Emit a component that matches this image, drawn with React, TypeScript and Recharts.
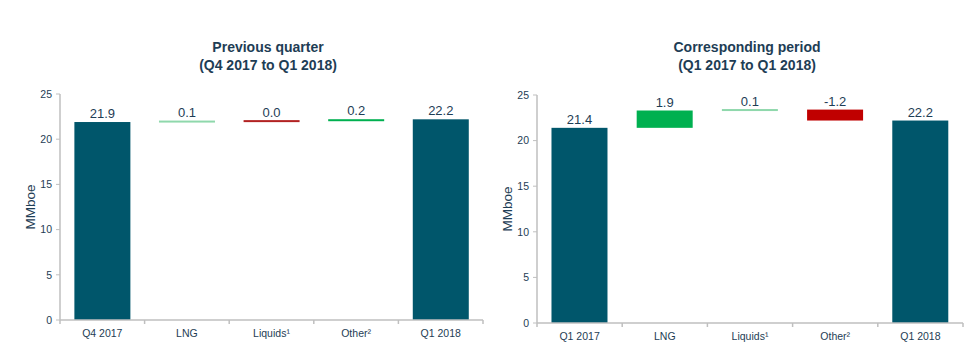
import React from 'react';
import { BarChart, Bar, XAxis, YAxis, Cell, LabelList } from 'recharts';

const categoriesA = ['Q4 2017', 'LNG', 'Liquids¹', 'Other²', 'Q1 2018'];
const deltasA = [21.9, 0.1, 0.0, 0.2, 22.2];
const kindsA = ['total', 'step', 'step', 'step', 'total'];
const colorsA = ['#00566B', '#8FD8AC', '#B22222', '#00B050', '#00566B'];

const categoriesB = ['Q1 2017', 'LNG', 'Liquids¹', 'Other²', 'Q1 2018'];
const deltasB = [21.4, 1.9, 0.1, -1.2, 22.2];
const kindsB = ['total', 'step', 'step', 'step', 'total'];
const colorsB = ['#00566B', '#00B050', '#8FD8AC', '#C00000', '#00566B'];

const yTicks = [0, 5, 10, 15, 20, 25];

const TEXT = '#1E3D55';
const AXIS = '#BFBFBF';
const FONT = '"Liberation Sans", Arial, sans-serif';

function buildData(cats: string[], deltas: number[], kinds: string[]) {
  let run = 0;
  return cats.map((c, i) => {
    const d = deltas[i];
    let range: [number, number];
    if (kinds[i] === 'total') {
      range = [0, d];
      run = d;
    } else {
      const next = Math.round((run + d) * 10) / 10;
      range = [Math.min(run, next), Math.max(run, next)];
      run = next;
    }
    return { name: c, delta: d, range };
  });
}

const BarShape = (props: any) => {
  const { x, y, width, height, fill } = props;
  let top = Math.min(y, y + height);
  let h = Math.abs(height);
  if (h < 2) {
    const mid = top + h / 2;
    top = mid - 1;
    h = 2;
  }
  return <rect x={x} y={top} width={width} height={h} fill={fill} />;
};

const ValueLabel = (props: any) => {
  const { x, y, width, height, value } = props;
  const top = Math.min(y, y + height);
  return (
    <text x={x + width / 2} y={top - 4} textAnchor="middle" fontSize={13} fill={TEXT} fontFamily={FONT}>
      {Number(value).toFixed(1)}
    </text>
  );
};

const makeTick = (bw: number, count: number) => (props: any) => {
  const { x, y, payload, index } = props;
  return (
    <g>
      <line x1={x - bw / 2} x2={x - bw / 2} y1={y} y2={y + 4} stroke={AXIS} strokeWidth={1.5} />
      {index === count - 1 && (
        <line x1={x + bw / 2} x2={x + bw / 2} y1={y} y2={y + 4} stroke={AXIS} strokeWidth={1.5} />
      )}
      <text x={x} y={y + 17} textAnchor="middle" fontSize={10.5} fill={TEXT} fontFamily={FONT}>
        {payload.value}
      </text>
    </g>
  );
};

const Panel = ({ data, colors, left, top, plotLeft, plotRight, plotTop, plotBottom, title1, title2, titleX }: any) => {
  const width = plotRight + 8;
  const height = 364 - top;
  const bw = (plotRight - plotLeft) / data.length;
  return (
    <div style={{ position: 'absolute', left, top: 0, width, height: 364 }}>
      <div style={{ position: 'absolute', left: 0, width: titleX * 2, top: 38, textAlign: 'center', fontFamily: FONT, fontWeight: 'bold', fontSize: 14, color: TEXT, lineHeight: '18px' }}>
        <div>{title1}</div>
        <div>{title2}</div>
      </div>
      <div
        style={{
          position: 'absolute',
          left: plotLeft - 30,
          top: (plotTop + plotBottom) / 2,
          transform: 'translate(-50%, -50%) rotate(-90deg)',
          fontFamily: FONT,
          fontSize: 13.5,
          color: TEXT,
          whiteSpace: 'nowrap',
        }}
      >
        MMboe
      </div>
      <div style={{ position: 'absolute', left: 0, top }}>
        <BarChart
          width={width}
          height={height}
          data={data}
          margin={{ top: plotTop - top, right: width - plotRight, bottom: height - (plotBottom - top) - 30, left: 0 }}
          barCategoryGap="17%"
        >
          <XAxis
            dataKey="name"
            height={30}
            axisLine={{ stroke: AXIS, strokeWidth: 1.5 }}
            tickLine={false}
            tickSize={0}
            tickMargin={0}
            interval={0}
            tick={makeTick(bw, data.length)}
          />
          <YAxis
            width={plotLeft}
            domain={[0, 25]}
            ticks={yTicks}
            interval={0}
            axisLine={{ stroke: AXIS, strokeWidth: 1.5 }}
            tickLine={{ stroke: AXIS }}
            tickSize={4}
            tickMargin={4}
            tick={{ fontSize: 10.5, fill: TEXT, fontFamily: FONT }}
          />
          <Bar dataKey="range" isAnimationActive={false} shape={BarShape}>
            {data.map((d: any, i: number) => (
              <Cell key={d.name} fill={colors[i]} />
            ))}
            <LabelList dataKey="delta" content={ValueLabel} />
          </Bar>
        </BarChart>
      </div>
    </div>
  );
};

export default function App() {
  const dataA = buildData(categoriesA, deltasA, kindsA);
  const dataB = buildData(categoriesB, deltasB, kindsB);
  return (
    <div style={{ position: 'absolute', left: 0, top: 0, width: 973, height: 364, background: '#fff', overflow: 'hidden' }}>
      <Panel
        data={dataA}
        colors={colorsA}
        left={0}
        top={80}
        plotLeft={60}
        plotRight={483}
        plotTop={94}
        plotBottom={320}
        title1="Previous quarter"
        title2="(Q4 2017 to Q1 2018)"
        titleX={268}
      />
      <Panel
        data={dataB}
        colors={colorsB}
        left={477}
        top={80}
        plotLeft={60}
        plotRight={486}
        plotTop={95}
        plotBottom={323}
        title1="Corresponding period"
        title2="(Q1 2017 to Q1 2018)"
        titleX={270}
      />
    </div>
  );
}
